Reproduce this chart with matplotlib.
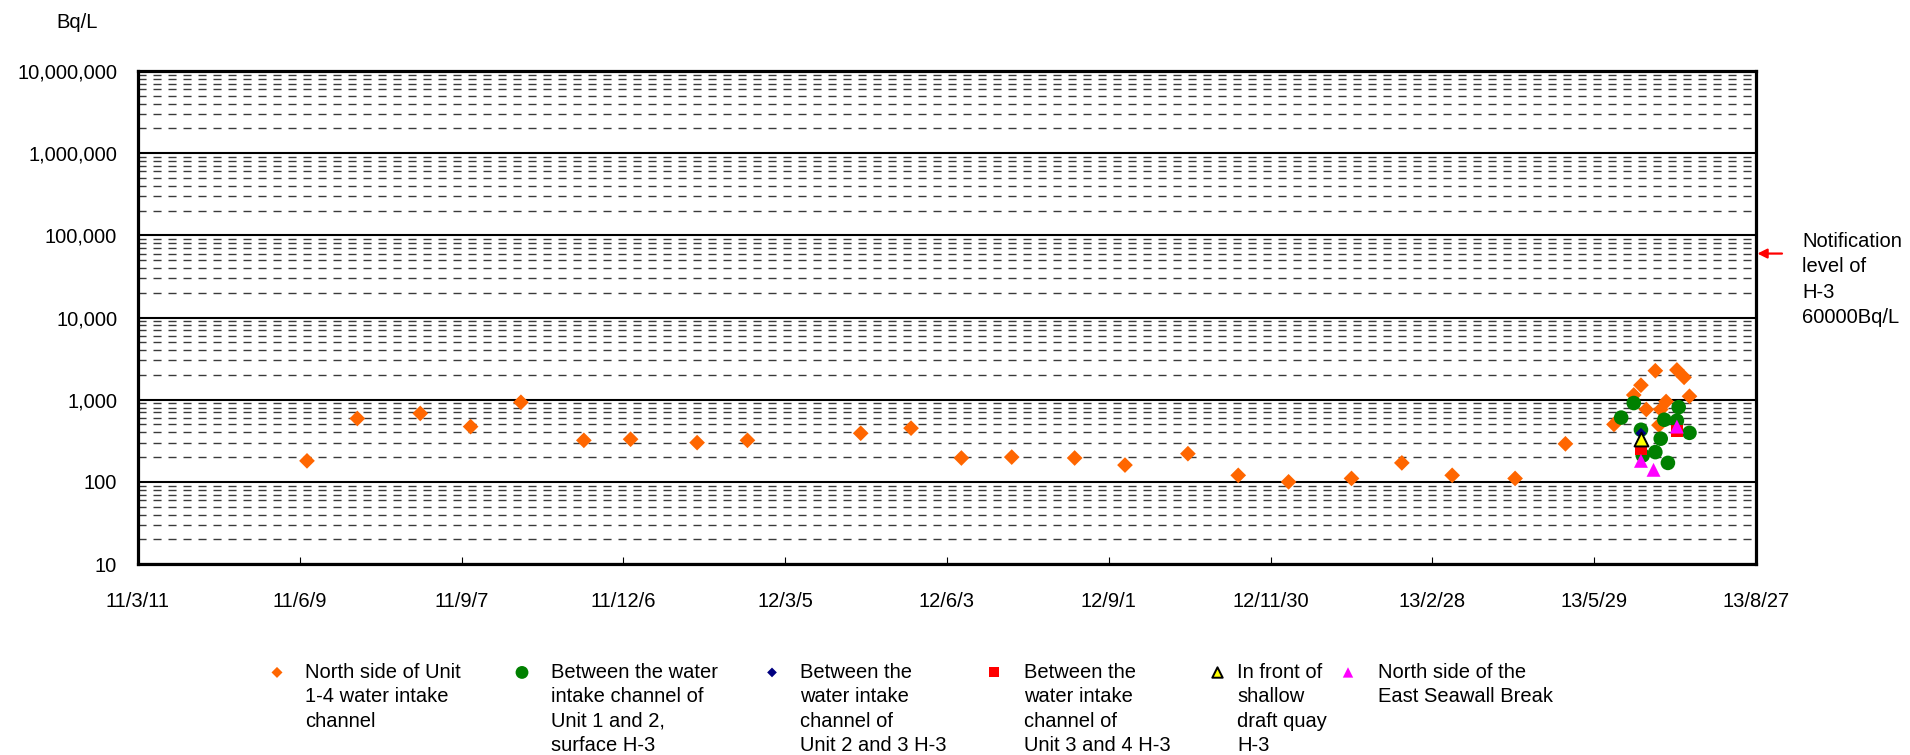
import numpy as np
import pandas as pd
import matplotlib
matplotlib.use('Agg')
import matplotlib.pyplot as plt
from matplotlib.ticker import FixedLocator, NullFormatter

plt.rcParams['font.family'] = ['Liberation Sans', 'DejaVu Sans']
plt.rcParams['lines.scale_dashes'] = False

# H-3 concentration (Bq/L) at the sampling points
north_dates = ['2011-06-13', '2011-07-11', '2011-08-15', '2011-09-12', '2011-10-10',
               '2011-11-14', '2011-12-10', '2012-01-16', '2012-02-13', '2012-04-16',
               '2012-05-14', '2012-06-11', '2012-07-09', '2012-08-13', '2012-09-10',
               '2012-10-15', '2012-11-12', '2012-12-10', '2013-01-14', '2013-02-11',
               '2013-03-11', '2013-04-15', '2013-05-13', '2013-06-09', '2013-06-20',
               '2013-06-24', '2013-06-27', '2013-07-02', '2013-07-04', '2013-07-05',
               '2013-07-08', '2013-07-14', '2013-07-18', '2013-07-21']
north_vals = [180, 590, 680, 470, 930, 320, 330, 300, 320, 390,
              450, 195, 200, 195, 160, 220, 120, 100, 110, 170,
              120, 110, 290, 500, 1140, 1500, 760, 2250, 490, 760,
              950, 2300, 1870, 1100]

u12_dates = ['2013-06-13', '2013-06-20', '2013-06-24', '2013-06-25', '2013-07-02',
             '2013-07-05', '2013-07-07', '2013-07-09', '2013-07-14', '2013-07-15',
             '2013-07-21']
u12_vals = [605, 910, 430, 210, 230, 335, 570, 170, 555, 810, 395]

u23_dates = ['2013-06-24']
u23_vals = [390]

u34_dates = ['2013-06-24', '2013-07-14']
u34_vals = [250, 420]

quay_dates = ['2013-06-24']
quay_vals = [335]

seawall_dates = ['2013-06-24', '2013-07-01', '2013-07-14']
seawall_vals = [180, 140, 470]

labels = ['North side of Unit\n1-4 water intake\nchannel',
          'Between the water\nintake channel of\nUnit 1 and 2,\nsurface H-3',
          'Between the\nwater intake\nchannel of\nUnit 2 and 3 H-3',
          'Between the\nwater intake\nchannel of\nUnit 3 and 4 H-3',
          'In front of\nshallow\ndraft quay\nH-3',
          'North side of the\nEast Seawall Break']

x_tick_labels = ['11/3/11', '11/6/9', '11/9/7', '11/12/6', '12/3/5', '12/6/3',
                 '12/9/1', '12/11/30', '13/2/28', '13/5/29', '13/8/27']
y_tick_labels = ['10', '100', '1,000', '10,000', '100,000', '1,000,000', '10,000,000']

notification_level = 60000

W, H = 1910, 755
fig = plt.figure(figsize=(W / 100, H / 100), dpi=100)
ax = fig.add_axes([138 / W, 1 - 564 / H, (1756 - 138) / W, (564 - 71) / H])

FS = 14.5

series = [
    (north_dates, north_vals, dict(marker='D', s=8.0 ** 2, color='#FF6600')),
    (u12_dates, u12_vals, dict(marker='o', s=10.5 ** 2, color='#008000')),
    (u23_dates, u23_vals, dict(marker='D', s=5.5 ** 2, color='#000080')),
    (u34_dates, u34_vals, dict(marker='s', s=8.5 ** 2, color='#FF0000')),
    (quay_dates, quay_vals, dict(marker='^', s=10 ** 2, color='#FFFF00',
                                 edgecolors='black', linewidths=1.4)),
    (seawall_dates, seawall_vals, dict(marker='^', s=10 ** 2, color='#FF00FF')),
]

handles = []
for i, (d, v, kw) in enumerate(series):
    kw = dict(kw)
    kw.setdefault('edgecolors', 'none')
    h = ax.scatter(pd.to_datetime(d), v, zorder=3 + i, clip_on=False, **kw)
    handles.append(h)

# axes scales
ax.set_yscale('log')
ax.set_ylim(10, 1e7)
x_ticks = pd.to_datetime(['20' + '-'.join(t.split('/')) for t in x_tick_labels])
ax.set_xlim(x_ticks[0], x_ticks[-1])
ax.set_xticks(x_ticks)
ax.set_xticklabels(x_tick_labels, fontsize=FS)
ax.set_yticks([10 ** k for k in range(1, 8)])
ax.set_yticklabels(y_tick_labels, fontsize=FS)
minor = [m * 10 ** k for k in range(1, 7) for m in range(2, 10)]
ax.yaxis.set_minor_locator(FixedLocator(minor))
ax.yaxis.set_minor_formatter(NullFormatter())

ax.tick_params(axis='x', direction='in', length=5, width=0.8, pad=20)
ax.tick_params(axis='y', which='both', length=0, pad=15)

# gridlines
ax.grid(axis='y', which='major', color='black', linewidth=1.5, linestyle='-')
ax.grid(axis='y', which='minor', color='#3a3a3a', linewidth=1.0, linestyle=(0, (5.8, 5.0)))
ax.set_axisbelow(True)

for sp in ax.spines.values():
    sp.set_linewidth(2.3)
    sp.set_color('black')

# unit label
fig.text(77 / W, 1 - 22 / H, 'Bq/L', ha='center', va='center', fontsize=FS)

# notification level marker
ax.annotate('', xy=(1.0, notification_level), xycoords=('axes fraction', 'data'),
            xytext=(26, 0), textcoords='offset pixels',
            arrowprops=dict(arrowstyle='-|>', color='red', lw=1.6, mutation_scale=14,
                            shrinkA=0, shrinkB=1))
fig.text(1802 / W, 1 - 232 / H, 'Notification\nlevel of\nH-3\n60000Bq/L',
         ha='left', va='top', fontsize=FS, linespacing=1.42)

# legend entries laid out in a row below the plot
marker_x = [277, 522, 772, 994, 1217, 1348]
text_x = [305, 551, 800, 1024, 1237, 1378]
mscale = [0.7, 0.88, 0.9, 0.85, 0.75, 0.75]
fs_px = FS * 100 / 72
for h, lab, mx, tx, ms in zip(handles, labels, marker_x, text_x, mscale):
    hl = 1.0
    anchor = mx - 0.5 * hl * fs_px
    pad = (tx - (anchor + hl * fs_px)) / fs_px
    leg = fig.legend([h], [lab], loc='upper left', bbox_to_anchor=(anchor / W, 1 - 663 / H),
                     frameon=False, borderpad=0, borderaxespad=0, handlelength=hl,
                     handleheight=1.25, handletextpad=pad, markerscale=ms,
                     fontsize=FS, scatterpoints=1)
    for t in leg.get_texts():
        t.set_linespacing(1.36)
    # put the marker next to the first line of a wrapped label
    for col in leg._legend_handle_box.get_children():
        for row in col.get_children():
            row.align = 'top'

fig.savefig('out.png', dpi=100)
